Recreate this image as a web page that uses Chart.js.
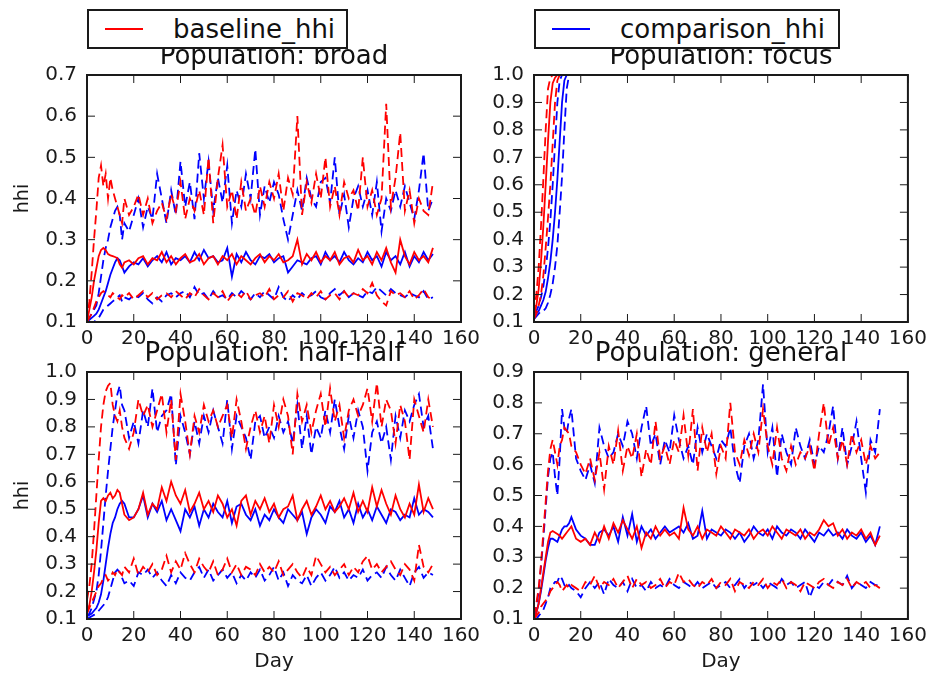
<!DOCTYPE html>
<html>
<head>
<meta charset="utf-8">
<script src="https://cdn.jsdelivr.net/npm/chart.js@4.4.0/dist/chart.umd.min.js"></script>
<style>
  body { margin: 0; background: #fff; }
  #wrap { position: relative; width: 932px; height: 678px; overflow: hidden; }
  #wrap canvas { position: absolute; left: 0; top: 0; }
  .legend {
    position: absolute; top: 9px; height: 40px; box-sizing: border-box;
    border: 2px solid #1a1a1a; background: #fff;
    font: 26px "DejaVu Sans", sans-serif; color: #111;
  }
  .legend .swatch { position: absolute; left: 16px; top: 17px; width: 38px; height: 0; border-top: 2px solid; }
  .legend .label { position: absolute; left: 84px; top: 0; line-height: 36px; white-space: nowrap; }
</style>
</head>
<body>
<div id="wrap">
  <canvas id="c0" width="932" height="678"></canvas>
  <canvas id="c1" width="932" height="678"></canvas>
  <canvas id="c2" width="932" height="678"></canvas>
  <canvas id="c3" width="932" height="678"></canvas>
  <div class="legend" style="left:87px;width:261px"><span class="swatch" style="border-color:#ff0000"></span><span class="label">baseline_hhi</span></div>
  <div class="legend" style="left:534px;width:306px"><span class="swatch" style="border-color:#0000ff"></span><span class="label">comparison_hhi</span></div>
</div>
<script>
// days sampled: every day up to 16, then every other day
const days = [0, 1, 2, 3, 4, 5, 6, 7, 8, 9, 10, 11, 12, 13, 14, 15, 16,
  18, 20, 22, 24, 26, 28, 30, 32, 34, 36, 38, 40, 42, 44, 46, 48, 50, 52, 54, 56,
  58, 60, 62, 64, 66, 68, 70, 72, 74, 76, 78, 80, 82, 84, 86, 88, 90, 92, 94, 96,
  98, 100, 102, 104, 106, 108, 110, 112, 114, 116, 118, 120, 122, 124, 126, 128, 130, 132, 134, 136,
  138, 140, 142, 144, 146, 148];
const focusDays = [0, 1, 2, 3, 4, 5, 6, 7, 8, 9, 10, 11, 12, 13, 14, 15, 16, 149];

const xTicks = [0, 20, 40, 60, 80, 100, 120, 140, 160];

// ---- Population: broad
const broadBaseMean = [0.10, 0.13, 0.16, 0.20, 0.23, 0.26, 0.275, 0.28, 0.275, 0.265, 0.262, 0.26, 0.258, 0.255, 0.24, 0.232, 0.245,
  0.25, 0.24, 0.255, 0.26, 0.24, 0.255, 0.25, 0.27, 0.245, 0.26,
  0.24, 0.255, 0.265, 0.245, 0.25, 0.265, 0.24, 0.255, 0.26, 0.24,
  0.26, 0.25, 0.265, 0.24, 0.26, 0.25, 0.24, 0.255, 0.265, 0.245,
  0.26, 0.25, 0.265, 0.245, 0.25, 0.26, 0.30, 0.24, 0.265, 0.25,
  0.27, 0.245, 0.26, 0.25, 0.27, 0.24, 0.255, 0.26, 0.245, 0.275,
  0.25, 0.26, 0.24, 0.27, 0.25, 0.28, 0.245, 0.22, 0.30, 0.26,
  0.24, 0.27, 0.25, 0.26, 0.245, 0.28];
const broadBaseUp = [0.10, 0.15, 0.22, 0.30, 0.37, 0.45, 0.48, 0.43, 0.46, 0.40, 0.45, 0.42, 0.40, 0.38, 0.36, 0.34, 0.40,
  0.36, 0.38, 0.41, 0.36, 0.40, 0.34, 0.37, 0.39, 0.35, 0.41,
  0.37, 0.44, 0.35, 0.40, 0.37, 0.42, 0.36, 0.50, 0.34, 0.45,
  0.53, 0.38, 0.42, 0.35, 0.44, 0.37, 0.40, 0.36, 0.43, 0.38,
  0.44, 0.40, 0.46, 0.37, 0.45, 0.41, 0.60, 0.36, 0.44, 0.39,
  0.46, 0.40, 0.50, 0.38, 0.43, 0.36, 0.44, 0.40, 0.42, 0.37,
  0.50, 0.38, 0.42, 0.36, 0.40, 0.63, 0.38, 0.45, 0.56, 0.37,
  0.42, 0.34, 0.40, 0.37, 0.36, 0.44];
const broadBaseLow = [0.10, 0.11, 0.12, 0.135, 0.15, 0.16, 0.17, 0.175, 0.17, 0.165, 0.16, 0.17, 0.165, 0.16, 0.155, 0.165, 0.16,
  0.17, 0.155, 0.165, 0.175, 0.16, 0.17, 0.155, 0.165, 0.17, 0.16,
  0.175, 0.165, 0.155, 0.17, 0.16, 0.18, 0.165, 0.155, 0.17, 0.16,
  0.175, 0.15, 0.165, 0.17, 0.16, 0.175, 0.155, 0.165, 0.17, 0.16,
  0.18, 0.155, 0.165, 0.16, 0.175, 0.15, 0.17, 0.165, 0.155, 0.17,
  0.16, 0.175, 0.155, 0.165, 0.17, 0.155, 0.175, 0.16, 0.17, 0.165,
  0.18, 0.17, 0.195, 0.165, 0.15, 0.14, 0.175, 0.165, 0.17, 0.16,
  0.175, 0.155, 0.165, 0.18, 0.16, 0.155];
const broadCompMean = [0.10, 0.105, 0.11, 0.115, 0.12, 0.13, 0.145, 0.16, 0.175, 0.195, 0.215, 0.23, 0.245, 0.255, 0.25, 0.235, 0.22,
  0.235, 0.245, 0.24, 0.255, 0.235, 0.25, 0.26, 0.245, 0.27, 0.24,
  0.255, 0.25, 0.26, 0.245, 0.27, 0.25, 0.275, 0.255, 0.26, 0.245,
  0.25, 0.28, 0.21, 0.265, 0.245, 0.27, 0.25, 0.24, 0.26, 0.255,
  0.265, 0.245, 0.255, 0.26, 0.22, 0.235, 0.25, 0.245, 0.24, 0.255,
  0.26, 0.24, 0.27, 0.25, 0.26, 0.245, 0.27, 0.25, 0.24, 0.255,
  0.245, 0.27, 0.25, 0.26, 0.235, 0.27, 0.25, 0.26, 0.24, 0.27,
  0.235, 0.26, 0.245, 0.27, 0.25, 0.265];
const broadCompUp = [0.10, 0.11, 0.12, 0.13, 0.14, 0.17, 0.21, 0.25, 0.28, 0.30, 0.33, 0.35, 0.37, 0.38, 0.36, 0.30, 0.34,
  0.32, 0.36, 0.40, 0.33, 0.38, 0.35, 0.46, 0.40, 0.34, 0.42,
  0.36, 0.49, 0.38, 0.44, 0.35, 0.51, 0.40, 0.49, 0.37, 0.45,
  0.39, 0.48, 0.34, 0.42, 0.38, 0.46, 0.40, 0.52, 0.36, 0.43,
  0.39, 0.44, 0.41, 0.35, 0.30, 0.36, 0.42, 0.37, 0.45, 0.40,
  0.38, 0.44, 0.45, 0.39, 0.50, 0.36, 0.41, 0.33, 0.40, 0.43,
  0.38, 0.42, 0.36, 0.44, 0.32, 0.40, 0.37, 0.42, 0.38, 0.43,
  0.39, 0.35, 0.42, 0.51, 0.37, 0.40];
const broadCompLow = [0.10, 0.10, 0.10, 0.10, 0.105, 0.11, 0.12, 0.13, 0.135, 0.14, 0.145, 0.15, 0.155, 0.16, 0.165, 0.15, 0.16,
  0.155, 0.165, 0.16, 0.17, 0.155, 0.145, 0.16, 0.15, 0.165, 0.17,
  0.16, 0.17, 0.175, 0.16, 0.185, 0.165, 0.17, 0.155, 0.175, 0.16,
  0.165, 0.155, 0.17, 0.16, 0.175, 0.165, 0.155, 0.17, 0.16, 0.175,
  0.165, 0.155, 0.185, 0.16, 0.15, 0.165, 0.155, 0.17, 0.16, 0.165,
  0.175, 0.16, 0.155, 0.17, 0.18, 0.165, 0.175, 0.16, 0.17, 0.165,
  0.16, 0.175, 0.17, 0.185, 0.175, 0.165, 0.18, 0.17, 0.165, 0.16,
  0.17, 0.165, 0.16, 0.175, 0.155, 0.16];

// ---- Population: focus (all reach 1.0 early and stay there)
const focusBaseMean = [0.12, 0.16, 0.22, 0.32, 0.45, 0.60, 0.76, 0.90, 0.97, 0.99, 1.0, 1.0, 1.0, 1.0, 1.0, 1.0, 1.0, 1.0];
const focusBaseUp = [0.13, 0.20, 0.30, 0.45, 0.62, 0.80, 0.95, 0.99, 1.0, 1.0, 1.0, 1.0, 1.0, 1.0, 1.0, 1.0, 1.0, 1.0];
const focusBaseLow = [0.11, 0.13, 0.16, 0.20, 0.27, 0.37, 0.48, 0.60, 0.75, 0.90, 0.98, 1.0, 1.0, 1.0, 1.0, 1.0, 1.0, 1.0];
const focusCompMean = [0.12, 0.13, 0.14, 0.16, 0.18, 0.21, 0.26, 0.32, 0.40, 0.50, 0.62, 0.76, 0.90, 0.98, 1.0, 1.0, 1.0, 1.0];
const focusCompUp = [0.13, 0.14, 0.16, 0.19, 0.23, 0.29, 0.37, 0.47, 0.60, 0.75, 0.90, 0.98, 1.0, 1.0, 1.0, 1.0, 1.0, 1.0];
const focusCompLow = [0.11, 0.12, 0.13, 0.14, 0.14, 0.15, 0.17, 0.20, 0.24, 0.30, 0.38, 0.50, 0.63, 0.80, 0.95, 1.0, 1.0, 1.0];

// ---- Population: half-half
const halfBaseMean = [0.12, 0.15, 0.20, 0.27, 0.35, 0.45, 0.53, 0.54, 0.53, 0.55, 0.56, 0.54, 0.55, 0.57, 0.56, 0.52, 0.48,
  0.46, 0.47, 0.50, 0.56, 0.48, 0.52, 0.50, 0.58, 0.53, 0.60,
  0.55, 0.52, 0.57, 0.49, 0.52, 0.56, 0.50, 0.53, 0.49, 0.55,
  0.52, 0.47, 0.50, 0.44, 0.53, 0.55, 0.48, 0.53, 0.50, 0.54,
  0.49, 0.52, 0.47, 0.50, 0.51, 0.55, 0.46, 0.50, 0.53, 0.48,
  0.51, 0.55, 0.50, 0.53, 0.49, 0.51, 0.54, 0.50, 0.56, 0.49,
  0.53, 0.49, 0.58, 0.51, 0.57, 0.52, 0.48, 0.55, 0.50, 0.47,
  0.52, 0.48, 0.59, 0.49, 0.54, 0.50];
const halfBaseUp = [0.17, 0.22, 0.30, 0.42, 0.55, 0.68, 0.80, 0.88, 0.93, 0.95, 0.96, 0.88, 0.84, 0.82, 0.86, 0.80, 0.76,
  0.72, 0.78, 0.90, 0.84, 0.88, 0.80, 0.86, 0.92, 0.78, 0.90,
  0.68, 0.92, 0.82, 0.70, 0.84, 0.78, 0.88, 0.82, 0.86, 0.80,
  0.84, 0.88, 0.76, 0.90, 0.82, 0.72, 0.80, 0.86, 0.78, 0.84,
  0.74, 0.88, 0.80, 0.90, 0.84, 0.70, 0.92, 0.82, 0.88, 0.78,
  0.86, 0.92, 0.80, 0.94, 0.82, 0.88, 0.76, 0.86, 0.90, 0.84,
  0.88, 0.94, 0.82, 0.96, 0.80, 0.90, 0.86, 0.74, 0.88, 0.82,
  0.68, 0.90, 0.84, 0.78, 0.90, 0.80];
const halfBaseLow = [0.12, 0.14, 0.16, 0.18, 0.20, 0.22, 0.23, 0.25, 0.26, 0.24, 0.25, 0.27, 0.26, 0.28, 0.27, 0.26, 0.29,
  0.27, 0.32, 0.26, 0.29, 0.27, 0.30, 0.26, 0.28, 0.33, 0.27,
  0.31, 0.28, 0.34, 0.30, 0.27, 0.32, 0.29, 0.27, 0.31, 0.26,
  0.28, 0.32, 0.27, 0.30, 0.26, 0.29, 0.28, 0.26, 0.30, 0.27,
  0.29, 0.27, 0.31, 0.26, 0.28, 0.30, 0.27, 0.25, 0.29, 0.26,
  0.33, 0.30, 0.27, 0.29, 0.26, 0.28, 0.30, 0.26, 0.29, 0.27,
  0.31, 0.33, 0.28, 0.30, 0.27, 0.29, 0.31, 0.28, 0.26, 0.30,
  0.28, 0.24, 0.37, 0.29, 0.27, 0.30];
const halfCompMean = [0.11, 0.115, 0.12, 0.13, 0.14, 0.16, 0.19, 0.24, 0.30, 0.36, 0.41, 0.45, 0.47, 0.50, 0.52, 0.53, 0.52,
  0.47, 0.47, 0.50, 0.55, 0.47, 0.52, 0.49, 0.53, 0.46, 0.50,
  0.46, 0.42, 0.50, 0.47, 0.51, 0.44, 0.50, 0.47, 0.52, 0.49,
  0.47, 0.53, 0.45, 0.51, 0.52, 0.48, 0.46, 0.50, 0.44, 0.48,
  0.46, 0.50, 0.47, 0.45, 0.50, 0.48, 0.46, 0.49, 0.41, 0.47,
  0.50, 0.48, 0.45, 0.51, 0.49, 0.53, 0.47, 0.50, 0.45, 0.52,
  0.47, 0.50, 0.46, 0.51, 0.48, 0.45, 0.50, 0.49, 0.46, 0.48,
  0.47, 0.54, 0.48, 0.50, 0.49, 0.47];
const halfCompUp = [0.11, 0.12, 0.14, 0.17, 0.20, 0.26, 0.35, 0.45, 0.55, 0.64, 0.72, 0.80, 0.86, 0.92, 0.95, 0.88, 0.86,
  0.76, 0.82, 0.74, 0.86, 0.80, 0.94, 0.78, 0.84, 0.86, 0.92,
  0.66, 0.84, 0.78, 0.70, 0.82, 0.74, 0.84, 0.78, 0.86, 0.80,
  0.74, 0.90, 0.72, 0.84, 0.80, 0.76, 0.68, 0.82, 0.84, 0.76,
  0.80, 0.76, 0.84, 0.78, 0.82, 0.74, 0.88, 0.72, 0.84, 0.70,
  0.80, 0.76, 0.86, 0.78, 0.90, 0.80, 0.72, 0.84, 0.76, 0.86,
  0.80, 0.64, 0.78, 0.82, 0.74, 0.80, 0.68, 0.84, 0.76, 0.86,
  0.82, 0.88, 0.92, 0.80, 0.84, 0.72];
const halfCompLow = [0.10, 0.105, 0.11, 0.115, 0.12, 0.13, 0.14, 0.15, 0.16, 0.18, 0.21, 0.24, 0.27, 0.28, 0.27, 0.25, 0.23,
  0.24, 0.22, 0.27, 0.26, 0.28, 0.25, 0.27, 0.24, 0.22, 0.26,
  0.23, 0.27, 0.25, 0.24, 0.27, 0.29, 0.25, 0.28, 0.24, 0.26,
  0.28, 0.25, 0.27, 0.23, 0.26, 0.24, 0.27, 0.25, 0.28, 0.24,
  0.26, 0.29, 0.24, 0.27, 0.22, 0.26, 0.24, 0.23, 0.26, 0.22,
  0.25, 0.27, 0.24, 0.26, 0.29, 0.25, 0.27, 0.24, 0.26, 0.25,
  0.28, 0.24, 0.26, 0.27, 0.25, 0.29, 0.26, 0.24, 0.28, 0.25,
  0.22, 0.27, 0.29, 0.25, 0.27, 0.26];

// ---- Population: general
const genBaseMean = [0.10, 0.12, 0.15, 0.20, 0.25, 0.30, 0.35, 0.38, 0.385, 0.38, 0.375, 0.37, 0.36, 0.37, 0.38, 0.39, 0.40,
  0.36, 0.35, 0.36, 0.34, 0.38, 0.35, 0.40, 0.36, 0.41, 0.38,
  0.42, 0.39, 0.36, 0.40, 0.33, 0.38, 0.36, 0.40, 0.37, 0.39,
  0.37, 0.38, 0.36, 0.46, 0.39, 0.37, 0.40, 0.36, 0.39, 0.38,
  0.37, 0.40, 0.38, 0.36, 0.39, 0.38, 0.37, 0.39, 0.36, 0.38,
  0.39, 0.37, 0.40, 0.38, 0.36, 0.39, 0.38, 0.37, 0.39, 0.36,
  0.38, 0.37, 0.39, 0.42, 0.40, 0.41, 0.37, 0.39, 0.36, 0.38,
  0.37, 0.39, 0.36, 0.38, 0.34, 0.37];
const genBaseUp = [0.11, 0.15, 0.20, 0.28, 0.38, 0.48, 0.58, 0.65, 0.68, 0.64, 0.60, 0.66, 0.68, 0.72, 0.71, 0.70, 0.66,
  0.64, 0.60, 0.57, 0.62, 0.55, 0.64, 0.52, 0.66, 0.60, 0.71,
  0.58, 0.66, 0.62, 0.70, 0.56, 0.65, 0.60, 0.74, 0.62, 0.66,
  0.60, 0.68, 0.64, 0.76, 0.63, 0.78, 0.58, 0.72, 0.64, 0.70,
  0.57, 0.66, 0.62, 0.80, 0.64, 0.60, 0.68, 0.63, 0.70, 0.64,
  0.78, 0.66, 0.60, 0.72, 0.62, 0.58, 0.66, 0.60, 0.64, 0.62,
  0.66, 0.58, 0.70, 0.80, 0.66, 0.72, 0.62, 0.68, 0.60, 0.70,
  0.64, 0.68, 0.60, 0.66, 0.62, 0.64];
const genBaseLow = [0.10, 0.11, 0.12, 0.14, 0.15, 0.16, 0.17, 0.19, 0.20, 0.21, 0.22, 0.21, 0.19, 0.20, 0.21, 0.20, 0.21,
  0.20, 0.19, 0.22, 0.21, 0.24, 0.20, 0.22, 0.21, 0.23, 0.20,
  0.22, 0.24, 0.20, 0.23, 0.21, 0.22, 0.20, 0.21, 0.23, 0.20,
  0.22, 0.21, 0.25, 0.22, 0.23, 0.21, 0.20, 0.22, 0.21, 0.23,
  0.20, 0.22, 0.21, 0.23, 0.19, 0.22, 0.21, 0.20, 0.22, 0.21,
  0.23, 0.20, 0.22, 0.21, 0.23, 0.20, 0.22, 0.21, 0.19, 0.22,
  0.21, 0.20, 0.22, 0.23, 0.21, 0.20, 0.22, 0.21, 0.23, 0.20,
  0.22, 0.21, 0.22, 0.20, 0.21, 0.20];
const genCompMean = [0.10, 0.12, 0.15, 0.19, 0.24, 0.29, 0.33, 0.36, 0.36, 0.355, 0.35, 0.37, 0.39, 0.40, 0.40, 0.41, 0.43,
  0.39, 0.37, 0.36, 0.34, 0.34, 0.38, 0.39, 0.37, 0.40, 0.35,
  0.43, 0.37, 0.44, 0.35, 0.40, 0.37, 0.39, 0.36, 0.38, 0.40,
  0.38, 0.39, 0.40, 0.38, 0.41, 0.36, 0.37, 0.45, 0.36, 0.39,
  0.38, 0.37, 0.39, 0.38, 0.36, 0.38, 0.35, 0.37, 0.40, 0.38,
  0.37, 0.39, 0.36, 0.40, 0.38, 0.37, 0.39, 0.38, 0.36, 0.39,
  0.37, 0.35, 0.38, 0.37, 0.39, 0.37, 0.38, 0.36, 0.39, 0.37,
  0.36, 0.38, 0.35, 0.37, 0.34, 0.40];
const genCompUp = [0.11, 0.14, 0.19, 0.27, 0.36, 0.46, 0.56, 0.62, 0.64, 0.56, 0.50, 0.62, 0.78, 0.72, 0.70, 0.75, 0.78,
  0.62, 0.58, 0.55, 0.60, 0.54, 0.72, 0.66, 0.62, 0.64, 0.70,
  0.66, 0.74, 0.70, 0.62, 0.72, 0.79, 0.66, 0.70, 0.60, 0.68,
  0.64, 0.76, 0.68, 0.62, 0.66, 0.60, 0.72, 0.64, 0.70, 0.66,
  0.62, 0.68, 0.66, 0.72, 0.60, 0.54, 0.66, 0.70, 0.62, 0.68,
  0.86, 0.64, 0.72, 0.56, 0.70, 0.64, 0.60, 0.72, 0.66, 0.62,
  0.68, 0.60, 0.66, 0.64, 0.70, 0.79, 0.62, 0.72, 0.60, 0.66,
  0.74, 0.62, 0.51, 0.68, 0.64, 0.78];
const genCompLow = [0.10, 0.10, 0.11, 0.12, 0.13, 0.15, 0.17, 0.20, 0.21, 0.22, 0.22, 0.24, 0.23, 0.21, 0.20, 0.21, 0.20,
  0.19, 0.17, 0.20, 0.22, 0.20, 0.22, 0.18, 0.23, 0.21, 0.20,
  0.22, 0.19, 0.23, 0.20, 0.21, 0.19, 0.22, 0.20, 0.21, 0.20,
  0.23, 0.21, 0.20, 0.22, 0.21, 0.20, 0.22, 0.20, 0.21, 0.22,
  0.20, 0.21, 0.22, 0.20, 0.21, 0.23, 0.20, 0.22, 0.21, 0.22,
  0.20, 0.22, 0.21, 0.20, 0.23, 0.21, 0.22, 0.20, 0.21, 0.22,
  0.17, 0.21, 0.20, 0.22, 0.21, 0.23, 0.22, 0.21, 0.24, 0.20,
  0.22, 0.21, 0.20, 0.22, 0.21, 0.21];

const RED = "#ff0000";
const BLUE = "#0000ff";
const FONT = "'DejaVu Sans', sans-serif";

Chart.defaults.font.family = FONT;
Chart.defaults.color = "#1a1a1a";

function line(xs, ys, color, dashed) {
  return {
    data: xs.map((d, i) => ({ x: d, y: ys[i] })),
    borderColor: color,
    borderWidth: 1.8,
    borderDash: dashed ? [9, 5] : [],
    pointRadius: 0,
    fill: false,
    tension: 0,
  };
}

// matplotlib-like box with inward ticks on all four sides
const frame = {
  id: "frame",
  afterDraw(chart) {
    const { ctx, chartArea: a, scales: { x, y } } = chart;
    ctx.save();
    ctx.strokeStyle = "#1a1a1a";
    ctx.lineWidth = 1;
    ctx.beginPath();
    x.ticks.forEach((t) => {
      const px = x.getPixelForValue(t.value);
      ctx.moveTo(px, a.bottom); ctx.lineTo(px, a.bottom - 8);
      ctx.moveTo(px, a.top); ctx.lineTo(px, a.top + 8);
    });
    y.ticks.forEach((t) => {
      const py = y.getPixelForValue(t.value);
      ctx.moveTo(a.left, py); ctx.lineTo(a.left + 8, py);
      ctx.moveTo(a.right, py); ctx.lineTo(a.right - 8, py);
    });
    ctx.stroke();
    ctx.lineWidth = 2;
    ctx.strokeRect(a.left, a.top, a.right - a.left, a.bottom - a.top);
    ctx.restore();
  },
};

const panels = [
  { title: "Population: broad", yMax: 0.7, box: [87, 75, 461, 322], left: true, bottom: false,
    xs: days, sets: [broadBaseMean, broadBaseUp, broadBaseLow, broadCompMean, broadCompUp, broadCompLow] },
  { title: "Population: focus", yMax: 1.0, box: [534, 75, 908, 322], left: false, bottom: false,
    xs: focusDays, sets: [focusBaseMean, focusBaseUp, focusBaseLow, focusCompMean, focusCompUp, focusCompLow] },
  { title: "Population: half-half", yMax: 1.0, box: [87, 372, 461, 619], left: true, bottom: true,
    xs: days, sets: [halfBaseMean, halfBaseUp, halfBaseLow, halfCompMean, halfCompUp, halfCompLow] },
  { title: "Population: general", yMax: 0.9, box: [534, 372, 908, 619], left: false, bottom: true,
    xs: days, sets: [genBaseMean, genBaseUp, genBaseLow, genCompMean, genCompUp, genCompLow] },
];

const TITLE_SIZE = 26, TITLE_PAD = 2;

panels.forEach((p, i) => {
  const [l, t, r, b] = p.box;
  const yW = p.left ? 75 : 56;
  const xH = p.bottom ? 55 : 30;
  const s = p.sets;
  new Chart(document.getElementById("c" + i), {
    type: "line",
    data: {
      datasets: [
        line(p.xs, s[0], RED, false),
        line(p.xs, s[1], RED, true),
        line(p.xs, s[2], RED, true),
        line(p.xs, s[3], BLUE, false),
        line(p.xs, s[4], BLUE, true),
        line(p.xs, s[5], BLUE, true),
      ],
    },
    options: {
      responsive: false,
      animation: false,
      devicePixelRatio: 1,
      layout: {
        padding: { left: l - yW, top: t - TITLE_SIZE * 1.2 - TITLE_PAD, right: 932 - r, bottom: 678 - b - xH },
      },
      plugins: {
        legend: { display: false },
        tooltip: { enabled: false },
        title: {
          display: true, text: p.title, fullSize: false, color: "#111",
          font: { size: TITLE_SIZE, weight: "normal" }, padding: { top: 0, bottom: TITLE_PAD },
        },
      },
      scales: {
        x: {
          type: "linear", min: 0, max: 160,
          afterBuildTicks: (sc) => { sc.ticks = xTicks.map((v) => ({ value: v })); },
          afterFit: (sc) => { sc.height = xH; },
          grid: { display: false, drawTicks: false },
          border: { display: false },
          ticks: { font: { size: 20 }, padding: 5, maxRotation: 0, autoSkip: false },
          title: { display: p.bottom, text: "Day", font: { size: 20 }, padding: { top: 0, bottom: 0 } },
        },
        y: {
          type: "linear", min: 0.1, max: p.yMax,
          afterFit: (sc) => { sc.width = yW; },
          grid: { display: false, drawTicks: false },
          border: { display: false },
          ticks: { stepSize: 0.1, font: { size: 20 }, padding: 10, callback: (v) => v.toFixed(1) },
          title: { display: p.left, text: "hhi", font: { size: 19 }, padding: { top: 0, bottom: 0 } },
        },
      },
    },
    plugins: [frame],
  });
});
</script>
</body>
</html>
